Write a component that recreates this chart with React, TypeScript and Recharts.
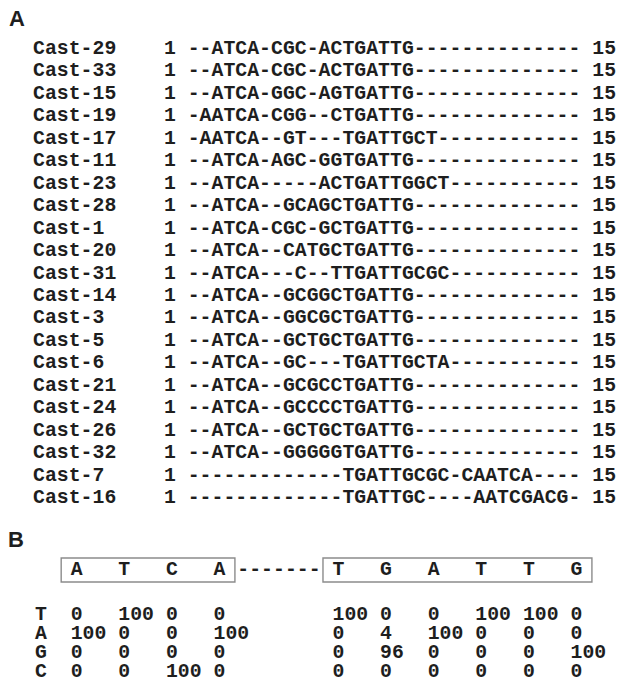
import { useMemo } from 'react'
import { ScatterChart, Scatter, XAxis, YAxis, ReferenceArea } from 'recharts'

// panel A: aligned clone sequences
const cloneNames = [
  'Cast-29', 'Cast-33', 'Cast-15', 'Cast-19', 'Cast-17', 'Cast-11', 'Cast-23',
  'Cast-28', 'Cast-1', 'Cast-20', 'Cast-31', 'Cast-14', 'Cast-3', 'Cast-5',
  'Cast-6', 'Cast-21', 'Cast-24', 'Cast-26', 'Cast-32', 'Cast-7', 'Cast-16',
]
const alignedSeqs = [
  '--ATCA-CGC-ACTGATTG--------------',
  '--ATCA-CGC-ACTGATTG--------------',
  '--ATCA-GGC-AGTGATTG--------------',
  '-AATCA-CGG--CTGATTG--------------',
  '-AATCA--GT---TGATTGCT------------',
  '--ATCA-AGC-GGTGATTG--------------',
  '--ATCA-----ACTGATTGGCT-----------',
  '--ATCA--GCAGCTGATTG--------------',
  '--ATCA-CGC-GCTGATTG--------------',
  '--ATCA--CATGCTGATTG--------------',
  '--ATCA---C--TTGATTGCGC-----------',
  '--ATCA--GCGGCTGATTG--------------',
  '--ATCA--GGCGCTGATTG--------------',
  '--ATCA--GCTGCTGATTG--------------',
  '--ATCA--GC---TGATTGCTA-----------',
  '--ATCA--GCGCCTGATTG--------------',
  '--ATCA--GCCCCTGATTG--------------',
  '--ATCA--GCTGCTGATTG--------------',
  '--ATCA--GGGGGTGATTG--------------',
  '-------------TGATTGCGC-CAATCA----',
  '-------------TGATTGC----AATCGACG-',
]
const seqFrom = 1
const seqTo = 15

// panel B: consensus motif and base frequencies (%)
const motifLeft = ['A', 'T', 'C', 'A']
const motifRight = ['T', 'G', 'A', 'T', 'T', 'G']
const linkerLen = 7
const baseRows = ['T', 'A', 'G', 'C']
const pctT = [0, 100, 0, 0, 100, 0, 0, 100, 100, 0]
const pctA = [100, 0, 0, 100, 0, 4, 100, 0, 0, 0]
const pctG = [0, 0, 0, 0, 0, 96, 0, 0, 0, 100]
const pctC = [0, 0, 100, 0, 0, 0, 0, 0, 0, 0]
const pctRows = [pctT, pctA, pctG, pctC]

const W = 617
const H = 689
const CHAR = 11.9
const FONT = 19.8
const INK = '#1e1e1e'
const MONO = "'Liberation Mono', 'Courier New', monospace"

// grids: one character cell per x unit, one text line per y unit
const SEQ_LEFT = 33
const SEQ_TOP = 49
const SEQ_LINE = 22.45
const PROF_LEFT = 35
const PROF_TOP = 615
const PROF_LINE = 19
const seqXDomain = [-(SEQ_LEFT + CHAR / 2) / CHAR, (W - SEQ_LEFT - CHAR / 2) / CHAR]
const seqYDomain = [-SEQ_TOP / SEQ_LINE, (H - SEQ_TOP) / SEQ_LINE]
const profXDomain = [-(PROF_LEFT + CHAR / 2) / CHAR, (W - PROF_LEFT - CHAR / 2) / CHAR]
const profYDomain = [-PROF_TOP / PROF_LINE, (H - PROF_TOP) / PROF_LINE]
const MOTIF_ROW = -2.37
const BOX_PAD = 1.3
const BOX_HALF = 0.63

type Cell = { x: number; y: number; ch: string }

const Glyph = (props: any) => (
  <text
    x={props.cx}
    y={props.cy}
    textAnchor="middle"
    dominantBaseline="central"
    fontFamily={MONO}
    fontWeight={700}
    fontSize={FONT}
    fill={INK}
  >
    {props.payload.ch}
  </text>
)

const PanelTag = (props: any) => (
  <text
    x={props.cx}
    y={props.cy}
    textAnchor="middle"
    dominantBaseline="central"
    fontFamily="'Liberation Sans', Arial, sans-serif"
    fontWeight={700}
    fontSize={22}
    fill={INK}
  >
    {props.payload.ch}
  </text>
)

export default function App() {
  const seqCells = useMemo(() => {
    const out: Cell[] = []
    cloneNames.forEach((name, r) => {
      const line = `${name.padEnd(11)}${seqFrom} ${alignedSeqs[r]} ${seqTo}`
      line.split('').forEach((ch, c) => {
        if (ch !== ' ') out.push({ x: c, y: r, ch })
      })
    })
    return out
  }, [])

  const leftCols = motifLeft.map((_, i) => 3 + 4 * i)
  const linkerStart = leftCols[leftCols.length - 1] + 2
  const rightStart = linkerStart + linkerLen + 1
  const rightCols = motifRight.map((_, i) => rightStart + 4 * i)
  const valueCols = [...leftCols, ...rightCols]

  const motifCells = useMemo(() => {
    const out: Cell[] = []
    motifLeft.forEach((b, i) => out.push({ x: leftCols[i], y: MOTIF_ROW, ch: b }))
    for (let k = 0; k < linkerLen; k++) out.push({ x: linkerStart + k, y: MOTIF_ROW, ch: '-' })
    motifRight.forEach((b, i) => out.push({ x: rightCols[i], y: MOTIF_ROW, ch: b }))
    return out
  }, [])

  const tableCells = useMemo(() => {
    const out: Cell[] = []
    baseRows.forEach((b, r) => {
      out.push({ x: 0, y: r, ch: b })
      pctRows[r].forEach((v, j) => {
        String(v).split('').forEach((ch, k) => out.push({ x: valueCols[j] + k, y: r, ch }))
      })
    })
    return out
  }, [])

  return (
    <div style={{ position: 'absolute', left: 0, top: 0, width: W, height: H, background: '#fff' }}>
      <ScatterChart width={W} height={H} margin={{ top: 0, right: 0, bottom: 0, left: 0 }}>
        <XAxis xAxisId="seq" type="number" dataKey="x" domain={seqXDomain} allowDataOverflow hide />
        <YAxis yAxisId="seq" type="number" dataKey="y" domain={seqYDomain} allowDataOverflow reversed hide />
        <XAxis xAxisId="prof" type="number" dataKey="x" domain={profXDomain} allowDataOverflow hide />
        <YAxis yAxisId="prof" type="number" dataKey="y" domain={profYDomain} allowDataOverflow reversed hide />

        <ReferenceArea
          xAxisId="prof"
          yAxisId="prof"
          x1={leftCols[0] - BOX_PAD}
          x2={leftCols[leftCols.length - 1] + BOX_PAD}
          y1={MOTIF_ROW - BOX_HALF}
          y2={MOTIF_ROW + BOX_HALF}
          fill="none"
          fillOpacity={0}
          stroke="#8c8c8c"
          strokeWidth={1.4}
        />
        <ReferenceArea
          xAxisId="prof"
          yAxisId="prof"
          x1={rightCols[0] - BOX_PAD}
          x2={rightCols[rightCols.length - 1] + BOX_PAD}
          y1={MOTIF_ROW - BOX_HALF}
          y2={MOTIF_ROW + BOX_HALF}
          fill="none"
          fillOpacity={0}
          stroke="#8c8c8c"
          strokeWidth={1.4}
        />

        <Scatter
          xAxisId="seq"
          yAxisId="seq"
          data={[{ x: -1.84, y: -1.34, ch: 'A' }]}
          shape={PanelTag}
          isAnimationActive={false}
        />
        <Scatter xAxisId="seq" yAxisId="seq" data={seqCells} shape={Glyph} isAnimationActive={false} />

        <Scatter
          xAxisId="prof"
          yAxisId="prof"
          data={[{ x: -2.1, y: -3.95, ch: 'B' }]}
          shape={PanelTag}
          isAnimationActive={false}
        />
        <Scatter xAxisId="prof" yAxisId="prof" data={motifCells} shape={Glyph} isAnimationActive={false} />
        <Scatter xAxisId="prof" yAxisId="prof" data={tableCells} shape={Glyph} isAnimationActive={false} />
      </ScatterChart>
    </div>
  )
}
